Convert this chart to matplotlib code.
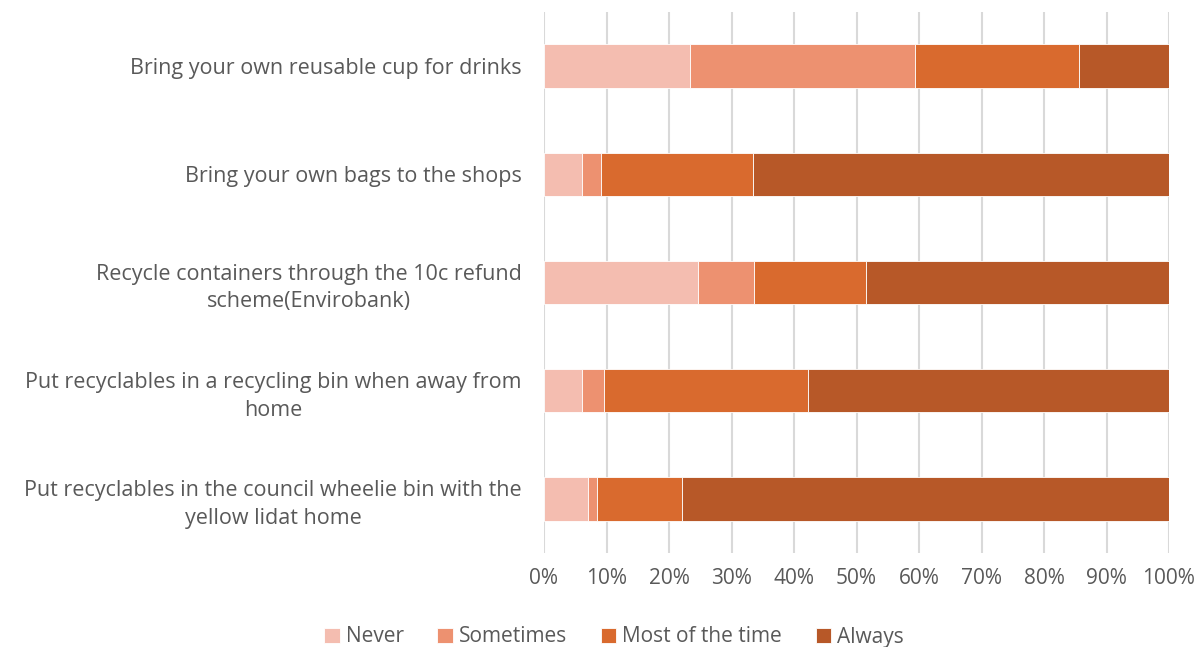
import matplotlib.pyplot as plt
import numpy as np

# data (percent of respondents)
categories = [
    "Bring your own reusable cup for drinks",
    "Bring your own bags to the shops",
    "Recycle containers through the 10c refund\nscheme(Envirobank)",
    "Put recyclables in a recycling bin when away from\nhome",
    "Put recyclables in the council wheelie bin with the\nyellow lidat home",
]
series_names = ["Never", "Sometimes", "Most of the time", "Always"]
never = [23.3, 6.0, 24.6, 6.0, 7.0]
sometimes = [36.1, 3.1, 9.0, 3.6, 1.4]
most_of_time = [26.2, 24.3, 17.9, 32.7, 13.6]
always = [14.4, 66.6, 48.5, 57.7, 78.0]
colors = ["#F4BDB0", "#ED9170", "#D96A2E", "#B75828"]

text_color = "#595959"
plt.rcParams["font.family"] = ["Open Sans", "DejaVu Sans"]

fig = plt.figure(figsize=(12.02, 6.47), dpi=100)
ax = fig.add_axes([544 / 1202, 1 - 553 / 647, (1169 - 544) / 1202, 541 / 647])

y = np.arange(len(categories))
left = np.zeros(len(categories))
for name, vals, col in zip(series_names, [never, sometimes, most_of_time, always], colors):
    ax.barh(y, vals, left=left, height=0.4, color=col, label=name,
            edgecolor="white", linewidth=0.6, zorder=3)
    left += np.array(vals)

ax.set_xlim(0, 100)
ax.set_ylim(len(categories) - 0.5, -0.5)
ax.set_yticks(y)
ax.set_yticklabels(categories, fontsize=15.5, color=text_color,
                   multialignment="center", linespacing=1.4)
ax.tick_params(axis="y", length=0, pad=16)

ax.set_xticks(np.arange(0, 101, 10))
ax.set_xticklabels([f"{v}%" for v in range(0, 101, 10)], fontsize=15, color=text_color)
ax.tick_params(axis="x", length=0, pad=11)
ax.grid(axis="x", color="#D9D9D9", linewidth=1.5, zorder=0)
for s in ax.spines.values():
    s.set_visible(False)

fig.legend(loc="center", bbox_to_anchor=(614 / 1202, 1 - 637 / 647), ncol=4,
           frameon=False, fontsize=15, labelcolor=text_color,
           handlelength=0.75, handleheight=0.75, handletextpad=0.3, columnspacing=1.6)

fig.savefig("out.png", dpi=100)
